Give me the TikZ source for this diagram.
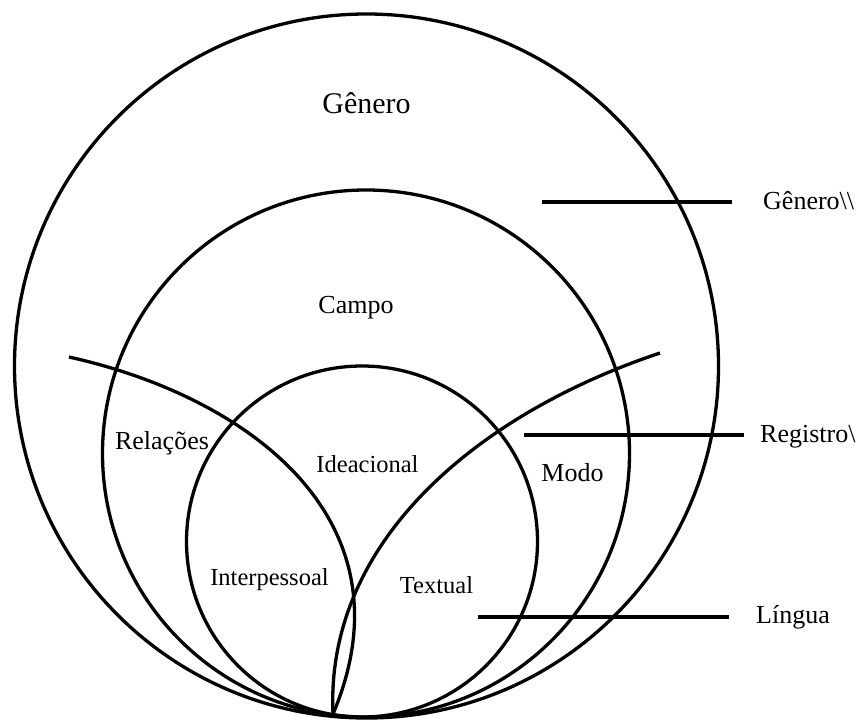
\documentclass[tikz,border=0pt]{standalone}
\usepackage{fontspec}
\setmainfont{Liberation Serif}
\begin{document}
\begin{tikzpicture}[x=1pt, y=-1pt,
  ring/.style={draw=black, line width=3.3pt},
  petal/.style={draw=black, line width=3.3pt},
  tick/.style={draw=black, line width=3.5pt},
  lbl/.style={inner sep=0pt, anchor=base, font=\fontsize{26}{30}\selectfont},
  inner/.style={lbl, font=\fontsize{24.5}{29}\selectfont},
  side/.style={lbl, anchor=base west},
  title/.style={lbl, font=\fontsize{30}{34}\selectfont}]
\useasboundingbox (0,0) rectangle (861,722);
\fill[white] (0,0) rectangle (861,722);

% nested circles: genre, register, language
\draw[ring] (366.5,366) circle[radius=352pt];
\draw[ring] (366,453.5) circle[radius=263.5pt];
\draw[ring] (362,541.5) circle[radius=175.5pt];

% the two arcs splitting the register into its three variables
\coordinate (la) at (69,357);
\coordinate (ra) at (660,353);
\coordinate (tip) at (333,714);
\draw[petal] (la) .. controls (249,397) and (415,520) .. (tip);
\draw[petal] (ra) .. controls (480,413) and (325,540) .. (tip);

% labels inside the circles
\node[title] (genero) at (366.5,114) {Gênero};
\node[lbl] (campo) at (356,313) {Campo};
\node[lbl] (relacoes) at (162,449) {Relações};
\node[lbl] (modo) at (572.5,481) {Modo};
\node[inner] (ideacional) at (367.5,472) {Ideacional};
\node[inner] (interpessoal) at (269.5,585) {Interpessoal};
\node[inner] (textual) at (436.5,593) {Textual};

% side labels with their leader lines
\node[side] (lgenero) at (763,209) {Gênero\textbackslash\textbackslash};
\node[side] (lregistro) at (760,442) {Registro\textbackslash};
\node[side] (llingua) at (756,623) {Língua};

\coordinate (g0) at (542,202);
\coordinate (g1) at (732,202);
\coordinate (r0) at (524,435);
\coordinate (r1) at (744,435);
\coordinate (l0) at (478,617);
\coordinate (l1) at (729,617);
\draw[tick] (g0) -- (g1);
\draw[tick] (r0) -- (r1);
\draw[tick] (l0) -- (l1);
\end{tikzpicture}
\end{document}
